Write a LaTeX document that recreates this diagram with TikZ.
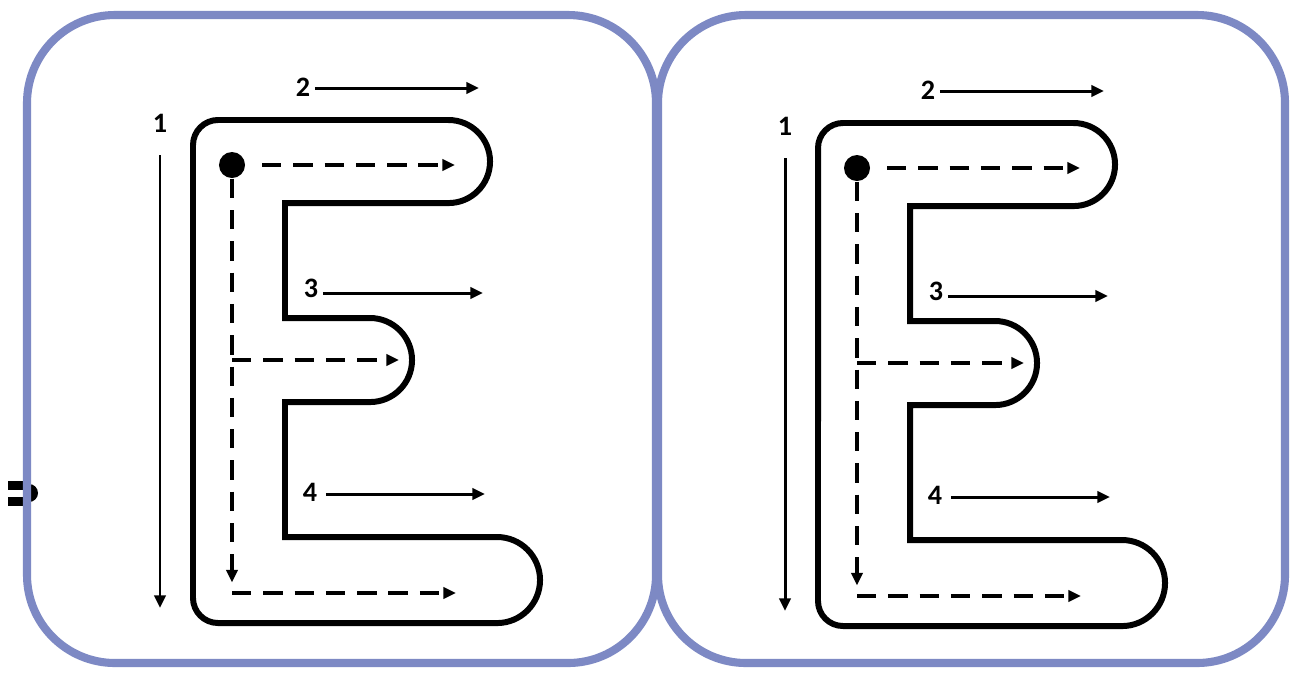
\documentclass[tikz,border=0pt]{standalone}
\usepackage{fontspec}
\setmainfont{Carlito}
\usepackage{tikz}
\usetikzlibrary{arrows.meta}
\definecolor{panelblue}{RGB}{125,137,196}

\begin{document}
\begin{tikzpicture}[
    x=0.01cm, y=0.01cm,
    panel/.style={draw=panelblue, line width=2.3pt, rounded corners=8.8mm},
    eline/.style={draw, line width=1.7pt},
    lbl/.style={inner sep=0pt, font=\fontsize{8}{9}\selectfont\bfseries},
    arr/.style={-{Triangle[length=3.6pt, width=3.2pt]}, line width=0.85pt},
    darr/.style={arr, line width=1.15pt, dash pattern=on 5.5pt off 3.4pt},
  ]
    \useasboundingbox (0,0) rectangle (1295,-675);
    \fill[white] (0,0) rectangle (1295,-675);
    % bit of a cut-off sign at the left border
    \fill (8,-481) rectangle (26,-490);
    \fill (8,-497) rectangle (26,-506);
    \fill (29,-484) arc[start angle=90, end angle=-90, radius=0.9mm] -- cycle;
    \draw[panel] (27,-15) rectangle (656,-663);
    \draw[panel] (658,-15) rectangle (1285,-663);
    \foreach \sx/\sy/\p in {0/0/a, 625/-3/b} {
      \begin{scope}[shift={(\sx,\sy)}]
        \draw[eline] (193,-145) arc[start angle=180, end angle=90, radius=2.5mm]
          -- (448.5,-120) arc[start angle=90, end angle=-90, radius=4.15mm]
          -- (285,-203) -- (285,-318)
          -- (370,-318) arc[start angle=90, end angle=-90, radius=4.2mm]
          -- (285,-402) -- (285,-537)
          -- (497,-537) arc[start angle=90, end angle=-90, radius=4.3mm]
          -- (218,-623) arc[start angle=270, end angle=180, radius=2.5mm]
          -- cycle;
        \node[lbl] (one\p)   at (160,-123) {1};
        \node[lbl] (two\p)   at (303,-87)  {2};
        \node[lbl] (three\p) at (311,-288) {3};
        \node[lbl] (four\p)  at (310,-492) {4};
        \coordinate (e1\p) at (160,-608);
        \coordinate (e2\p) at (479,-88);
        \coordinate (e3\p) at (483,-293);
        \coordinate (e4\p) at (485,-494);
        \draw[arr] (160,-155) -- (e1\p);
        \draw[arr] (two\p.east |- e2\p) ++(4,0) -- (e2\p);
        \draw[arr] (three\p.east |- e3\p) ++(4,0) -- (e3\p);
        \draw[arr] (four\p.east |- e4\p) ++(8,0) -- (e4\p);
        \node[circle, fill, inner sep=0pt, minimum size=2.6mm] (dot\p) at (232,-165) {};
        \coordinate (t\p)  at (455,-165);
        \coordinate (m0\p) at (232,-360);
        \coordinate (m\p)  at (399,-360);
        \coordinate (c\p)  at (232,-593);
        \coordinate (b\p)  at (456,-593);
        \draw[darr] (262,-165) -- (t\p);
        \draw[darr] (dot\p.south) -- ([yshift=3]c\p);
        \draw[darr] (m0\p) -- (m\p);
        \draw[darr] (c\p) -- (b\p);
      \end{scope}
    }
  \end{tikzpicture}
\end{document}
